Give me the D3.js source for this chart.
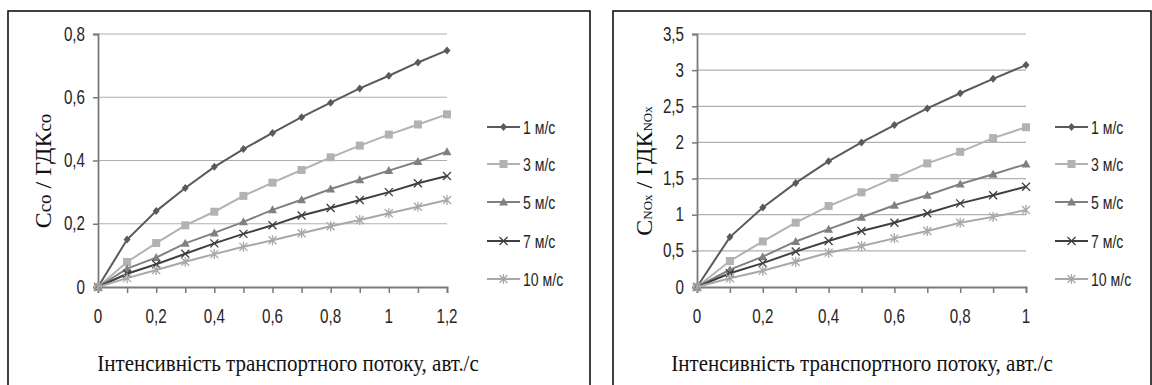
<!DOCTYPE html>
<html>
<head>
<meta charset="utf-8">
<script src="https://cdn.jsdelivr.net/npm/d3@7"></script>
<style>
  body { margin: 0; background: #fff; }
  svg { display: block; }
</style>
</head>
<body>
<svg width="1152" height="385"></svg>
<script>
// --- data ---
var speeds = ["1 м/с", "3 м/с", "5 м/с", "7 м/с", "10 м/с"];

var xCO = [0, 0.1, 0.2, 0.3, 0.4, 0.5, 0.6, 0.7, 0.8, 0.9, 1.0, 1.1, 1.2];
var co1  = [0, 0.15, 0.24, 0.313, 0.38, 0.436, 0.487, 0.537, 0.583, 0.628, 0.668, 0.71, 0.748];
var co3  = [0, 0.079, 0.139, 0.195, 0.238, 0.288, 0.33, 0.37, 0.41, 0.447, 0.482, 0.514, 0.546];
var co5  = [0, 0.058, 0.093, 0.138, 0.171, 0.206, 0.244, 0.276, 0.31, 0.339, 0.368, 0.397, 0.428];
var co7  = [0, 0.042, 0.072, 0.105, 0.138, 0.168, 0.195, 0.226, 0.25, 0.275, 0.3, 0.328, 0.351];
var co10 = [0, 0.028, 0.054, 0.08, 0.104, 0.127, 0.148, 0.17, 0.192, 0.212, 0.233, 0.254, 0.275];

var xNOx = [0, 0.1, 0.2, 0.3, 0.4, 0.5, 0.6, 0.7, 0.8, 0.9, 1.0];
var nox1  = [0, 0.69, 1.1, 1.44, 1.74, 2.0, 2.24, 2.47, 2.68, 2.88, 3.07];
var nox3  = [0, 0.36, 0.63, 0.89, 1.12, 1.31, 1.51, 1.71, 1.87, 2.06, 2.21];
var nox5  = [0, 0.24, 0.42, 0.63, 0.8, 0.965, 1.13, 1.27, 1.425, 1.56, 1.7];
var nox7  = [0, 0.19, 0.33, 0.49, 0.636, 0.775, 0.89, 1.02, 1.157, 1.27, 1.387];
var nox10 = [0, 0.12, 0.226, 0.35, 0.475, 0.567, 0.673, 0.775, 0.89, 0.97, 1.065];

var coTicksY  = [0, 0.2, 0.4, 0.6, 0.8];
var noxTicksY = [0, 0.5, 1, 1.5, 2, 2.5, 3, 3.5];
var coTicksX  = [0, 0.2, 0.4, 0.6, 0.8, 1, 1.2];
var noxTicksX = [0, 0.2, 0.4, 0.6, 0.8, 1];

var xTitle = "Інтенсивність  транспортного потоку, авт./с";

// --- styles ---
var colors  = ["#5a5a5a", "#b2b2b2", "#808080", "#3f3f3f", "#a8a8a8"];
var symbols = ["diamond", "square", "triangle", "cross", "star"];
var sansFont = "'Liberation Sans', sans-serif";
var fmt = function(d) { return String(d).replace(".", ","); };

var svg = d3.select("svg");

function marker(g, type, x, y, color) {
  if (type == "diamond") {
    g.append("path").attr("d", "M" + x + "," + (y-4) + "L" + (x+3.5) + "," + y + "L" + x + "," + (y+4) + "L" + (x-3.5) + "," + y + "Z")
      .attr("fill", color);
  } else if (type == "square") {
    g.append("rect").attr("x", x-4).attr("y", y-4).attr("width", 8).attr("height", 8).attr("fill", color);
  } else if (type == "triangle") {
    g.append("path").attr("d", "M" + x + "," + (y-4.5) + "L" + (x+4.5) + "," + (y+3.5) + "L" + (x-4.5) + "," + (y+3.5) + "Z")
      .attr("fill", color);
  } else if (type == "cross") {
    g.append("path").attr("d", "M" + (x-4) + "," + (y-4) + "L" + (x+4) + "," + (y+4) + "M" + (x-4) + "," + (y+4) + "L" + (x+4) + "," + (y-4))
      .attr("stroke", color).attr("stroke-width", 1.3);
  } else {
    g.append("path").attr("d", "M" + (x-4) + "," + (y-4) + "L" + (x+4) + "," + (y+4) + "M" + (x-4) + "," + (y+4) + "L" + (x+4) + "," + (y-4) + "M" + x + "," + (y-5) + "L" + x + "," + (y+5))
      .attr("stroke", color).attr("stroke-width", 1.3);
  }
}

// tall, slightly narrow text like the stretched original
function label(g, x, y, txt, anchor, size, sx, sy) {
  return g.append("text")
    .attr("transform", "translate(" + x + "," + y + ") scale(" + sx + "," + sy + ")")
    .attr("text-anchor", anchor)
    .attr("font-family", sansFont)
    .attr("font-size", size).attr("fill", "#262626")
    .text(txt);
}

function drawPanel(p) {
  svg.append("rect")
    .attr("x", p.box[0]).attr("y", p.box[1])
    .attr("width", p.box[2]).attr("height", p.box[3])
    .attr("fill", "none").attr("stroke", "#111").attr("stroke-width", 1.6);

  var x = d3.scaleLinear().domain([0, p.xmax]).range([p.left, p.right]);
  var y = d3.scaleLinear().domain([0, p.ymax]).range([287, 34]);
  var g = svg.append("g");

  // gridlines
  g.selectAll(".grid").data(p.yTicks.slice(1)).enter()
    .append("line")
    .attr("x1", p.left).attr("x2", p.right)
    .attr("y1", function(d) { return y(d); }).attr("y2", function(d) { return y(d); })
    .attr("stroke", "#b0b0b0").attr("stroke-width", 1.2);

  var yAxis = g.append("g")
    .attr("transform", "translate(" + p.left + ",0)")
    .call(d3.axisLeft(y).tickValues(p.yTicks).tickSize(5).tickFormat(""));
  var xAxis = g.append("g")
    .attr("transform", "translate(0,287)")
    .call(d3.axisBottom(x).tickValues(p.xs).tickSize(6).tickFormat(""));

  [yAxis, xAxis].forEach(function(a) {
    a.select(".domain").attr("stroke", "#7a7a7a").attr("stroke-width", 1.8);
    a.selectAll(".tick line").attr("stroke", "#7a7a7a").attr("stroke-width", 1.5);
  });

  p.yTicks.forEach(function(d) {
    label(g, p.left - 13, y(d) + 6.5, fmt(d), "end", 16, 0.95, 1.22);
  });
  p.xTicks.forEach(function(d) {
    label(g, x(d), 323, fmt(d), "middle", 16, 0.95, 1.22);
  });

  // series
  var line = d3.line()
    .x(function(d) { return x(d[0]); })
    .y(function(d) { return y(d[1]); });

  p.series.forEach(function(vals, i) {
    var pts = p.xs.map(function(xv, j) { return [xv, vals[j]]; });
    g.append("path").datum(pts)
      .attr("d", line).attr("fill", "none")
      .attr("stroke", colors[i]).attr("stroke-width", 2);
    pts.forEach(function(pt) { marker(g, symbols[i], x(pt[0]), y(pt[1]), colors[i]); });
  });

  // legend
  var rows = [127, 164, 202, 241, 279];
  speeds.forEach(function(s, i) {
    g.append("line")
      .attr("x1", p.legX).attr("x2", p.legX + 33)
      .attr("y1", rows[i]).attr("y2", rows[i])
      .attr("stroke", colors[i]).attr("stroke-width", 2);
    marker(g, symbols[i], p.legX + 16.5, rows[i], colors[i]);
    label(g, p.legX + 36, rows[i] + 6.5, s, "start", 16, 0.88, 1.15);
  });

  // axis titles
  g.append("text")
    .attr("transform", "translate(" + p.titleX + ",371) scale(1,1.1)")
    .attr("text-anchor", "middle")
    .attr("font-family", "'Liberation Serif', serif")
    .attr("font-size", 21).attr("fill", "#111")
    .text(xTitle);

  var yt = g.append("text")
    .attr("transform", "translate(" + p.ylabX + ",171) rotate(-90)")
    .attr("text-anchor", "middle")
    .attr("font-family", "'Liberation Serif', serif")
    .attr("font-size", 24).attr("fill", "#111");
  yt.append("tspan").text("C");
  yt.append("tspan").attr("font-size", p.subSize).text(p.sub);
  yt.append("tspan").text(" / ГДК");
  yt.append("tspan").attr("font-size", p.subSize).text(p.sub);
}

drawPanel({
  box: [8, 11, 582, 400], left: 98, right: 447, xmax: 1.2, ymax: 0.8,
  xs: xCO, xTicks: coTicksX, yTicks: coTicksY,
  series: [co1, co3, co5, co7, co10],
  legX: 487, titleX: 288, ylabX: 51, sub: "co", subSize: 19
});

drawPanel({
  box: [613, 11, 538, 400], left: 697, right: 1026, xmax: 1.0, ymax: 3.5,
  xs: xNOx, xTicks: noxTicksX, yTicks: noxTicksY,
  series: [nox1, nox3, nox5, nox7, nox10],
  legX: 1055, titleX: 862, ylabX: 652, sub: "NOx", subSize: 13
});
</script>
</body>
</html>
